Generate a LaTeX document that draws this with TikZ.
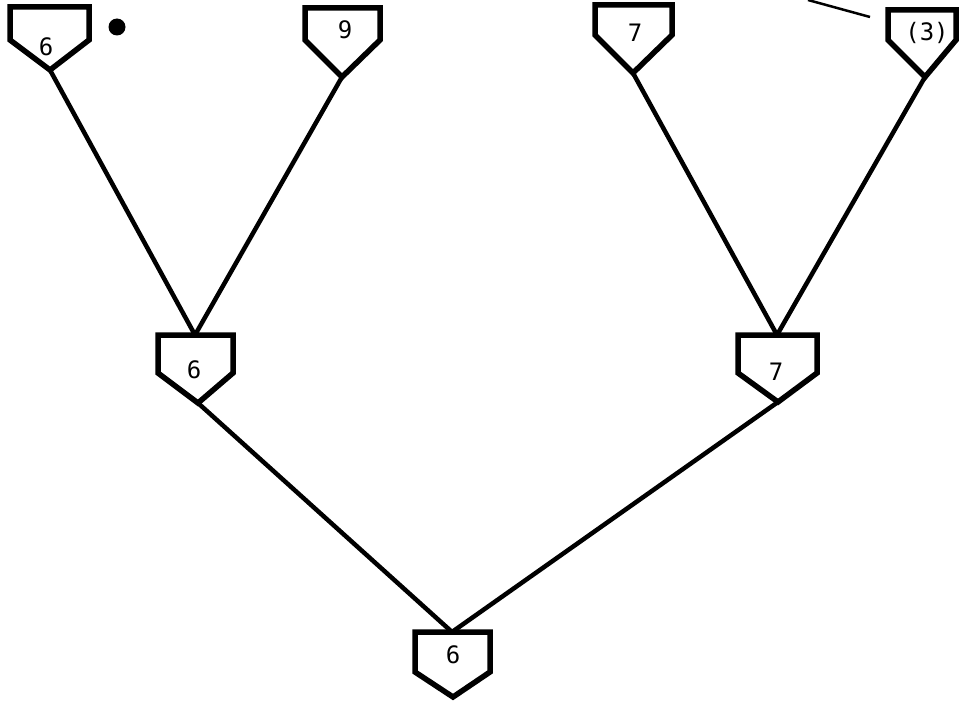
\documentclass[tikz,border=0pt]{standalone}
\usepackage{fontspec}
\newfontfamily\lblfont{DejaVu Sans Mono}
\tikzset{
  plate/.style={draw=black, line width=5.5pt, line join=miter, fill=white},
  conn/.style={draw=black, line width=4.5pt},
  lbl/.style={font=\lblfont\fontsize{24}{26}\selectfont, inner sep=0pt}
}
\newcommand\hplate[9]{%
  \draw[plate] (#2,#4) -- (#3,#4) -- (#3,#5) -- (#6,#7) -- (#2,#5) -- cycle;
  \coordinate (#1-top) at ({(#2+#3)/2},#4);
  \coordinate (#1-tip) at (#6,#7);
  \node[lbl] (#1) at (#8) {#9};}
\begin{document}
\begin{tikzpicture}[x=1pt,y=-1pt]
\useasboundingbox (0,0) rectangle (961,701);
% connectors first (plates drawn on top)
\coordinate (a-tipc) at (50,70);
\coordinate (b-tipc) at (342,77);
\coordinate (c-tipc) at (633,73);
\coordinate (d-tipc) at (925,77);
\coordinate (m1-topc) at (195,335);
\coordinate (m2-topc) at (777,335);
\coordinate (m1-tipc) at (198,403);
\coordinate (m2-tipc) at (778,402);
\coordinate (r-topc) at (452,632);
\draw[conn] (a-tipc) -- (m1-topc);
\draw[conn] (b-tipc) -- (m1-topc);
\draw[conn] (c-tipc) -- (m2-topc);
\draw[conn] (d-tipc) -- (m2-topc);
\draw[conn] (m1-tipc) -- (r-topc);
\draw[conn] (m2-tipc) -- (r-topc);
% plates
\hplate{a}{10}{89}{7}{40}{50}{70}{46,47}{6}
\hplate{b}{305}{380}{8}{40}{342}{77}{345,30}{9}
\hplate{c}{595}{672}{5}{35}{633}{73}{635,33}{7}
\hplate{d}{888}{956}{10}{40}{925}{77}{927,33}{(3)}
\hplate{m1}{158}{233}{335}{373}{198}{403}{194,370}{6}
\hplate{m2}{738}{817}{335}{373}{778}{402}{776,372}{7}
\hplate{r}{415}{490}{632}{672}{453}{697}{453,655}{6}
% dot and stray line
\fill[black] (117,27) circle (8.5);
\coordinate (s1) at (808,0);
\coordinate (s2) at (870,17);
\draw[line width=2.5pt] (s1) -- (s2);
\end{tikzpicture}
\end{document}
